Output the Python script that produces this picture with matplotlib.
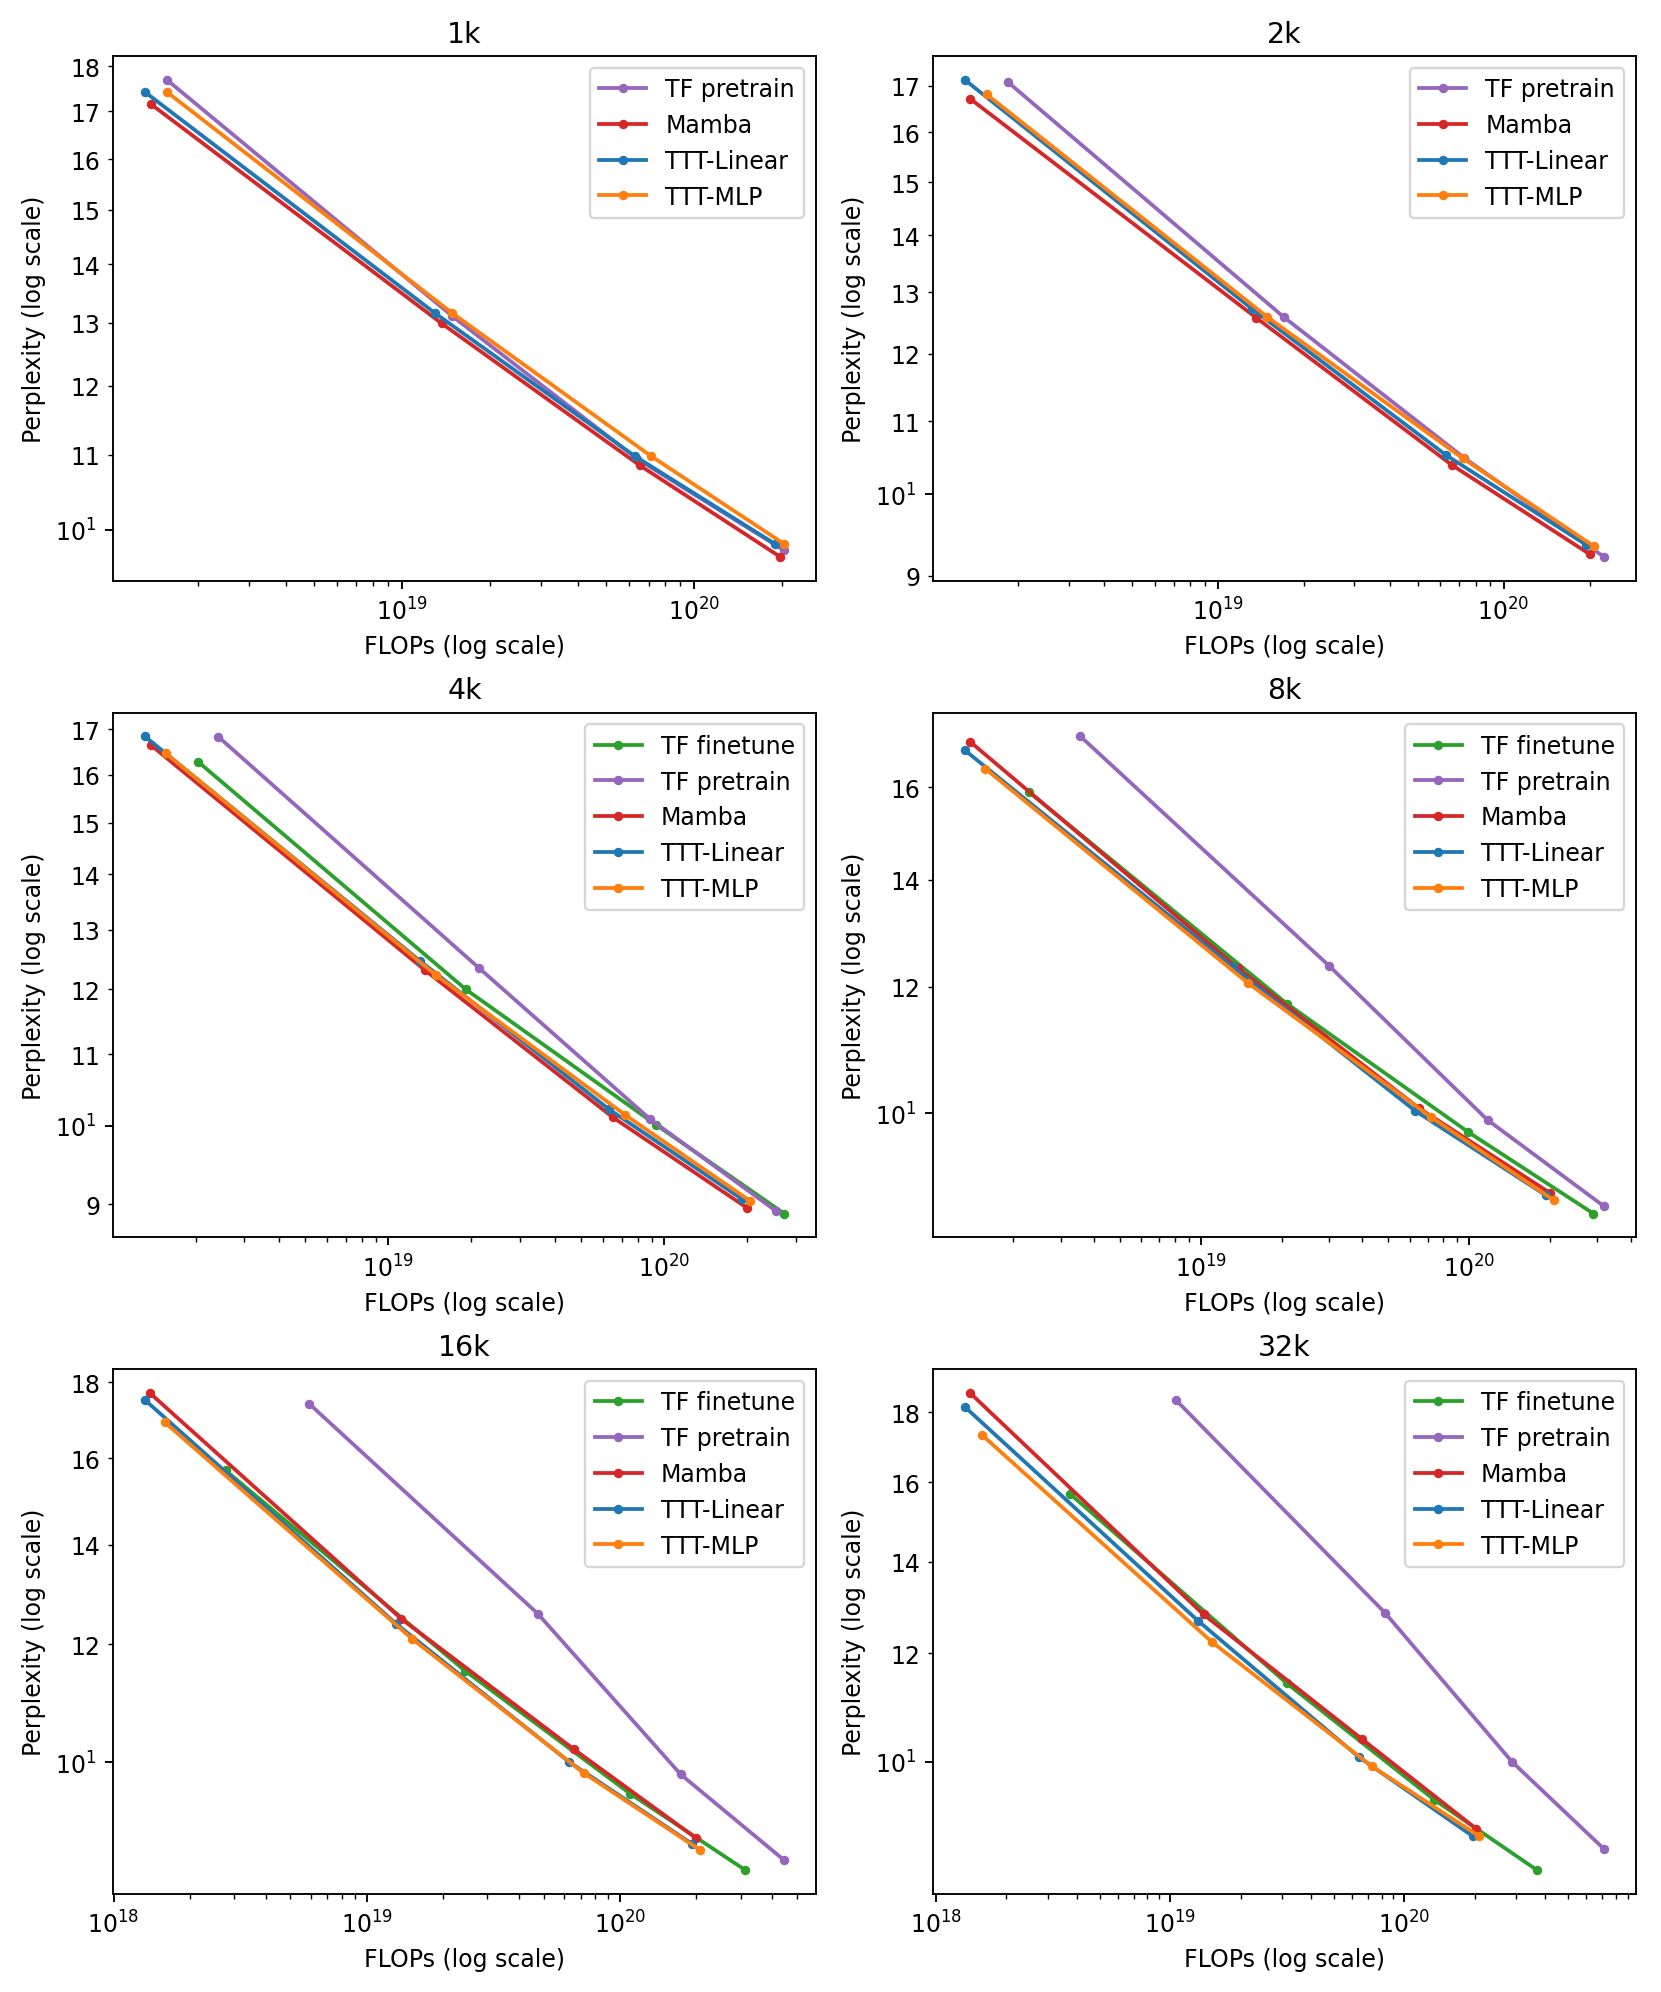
import numpy as np
import matplotlib
matplotlib.use('Agg')
import matplotlib.pyplot as plt
from matplotlib.ticker import LogFormatterSciNotation

# context lengths (one panel each)
panels = ['1k', '2k', '4k', '8k', '16k', '32k']

tf_ft_flops = {
    '4k': [2.04e18, 1.91e19, 9.35e19, 2.72e20],
    '8k': [2.28e18, 2.09e19, 9.9e19, 2.9e20],
    '16k': [2.77e18, 2.44e19, 1.10e20, 3.13e20],
    '32k': [3.73e18, 3.15e19, 1.34e20, 3.69e20],
}
tf_ft_ppl = {
    '4k': [16.28, 12.00, 10.01, 8.89],
    '8k': [15.90, 11.71, 9.73, 8.65],
    '16k': [15.70, 11.52, 9.52, 8.46],
    '32k': [15.70, 11.41, 9.38, 8.33],
}

tf_pre_flops = {
    '1k': [1.57e18, 1.49e19, 6.4e19, 2.04e20],
    '2k': [1.84e18, 1.70e19, 7.26e19, 2.25e20],
    '4k': [2.42e18, 2.13e19, 8.87e19, 2.54e20],
    '8k': [3.56e18, 3.0e19, 1.17e20, 3.18e20],
    '16k': [5.92e18, 4.74e19, 1.74e20, 4.46e20],
    '32k': [1.06e19, 8.3e19, 2.88e20, 7.14e20],
}
tf_pre_ppl = {
    '1k': [17.69, 13.11, 10.94, 9.74],
    '2k': [17.08, 12.59, 10.49, 9.22],
    '4k': [16.83, 12.35, 10.09, 8.92],
    '8k': [17.22, 12.37, 9.90, 8.74],
    '16k': [17.41, 12.58, 9.81, 8.59],
    '32k': [18.38, 12.84, 10.0, 8.63],
}

mamba_flops = {
    '1k': [1.38e18, 1.37e19, 6.53e19, 1.98e20],
    '2k': [1.36e18, 1.36e19, 6.59e19, 2.01e20],
    '4k': [1.38e18, 1.36e19, 6.52e19, 1.99e20],
    '8k': [1.38e18, 1.37e19, 6.5e19, 2.0e20],
    '16k': [1.39e18, 1.37e19, 6.58e19, 2.0e20],
    '32k': [1.40e18, 1.39e19, 6.63e19, 2.03e20],
}
mamba_ppl = {
    '1k': [17.16, 12.99, 10.85, 9.66],
    '2k': [16.71, 12.58, 10.39, 9.25],
    '4k': [16.64, 12.31, 10.11, 8.96],
    '8k': [17.09, 12.33, 10.07, 8.91],
    '16k': [17.70, 12.48, 10.20, 8.89],
    '32k': [18.60, 12.81, 10.38, 8.93],
}

lin_flops = {
    '1k': [1.32e18, 1.30e19, 6.27e19, 1.90e20],
    '2k': [1.30e18, 1.32e19, 6.31e19, 1.94e20],
    '4k': [1.31e18, 1.30e19, 6.31e19, 1.92e20],
    '8k': [1.32e18, 1.32e19, 6.3e19, 1.93e20],
    '16k': [1.33e18, 1.31e19, 6.31e19, 1.93e20],
    '32k': [1.33e18, 1.32e19, 6.43e19, 1.96e20],
}
lin_ppl = {
    '1k': [17.42, 13.16, 10.98, 9.82],
    '2k': [17.13, 12.72, 10.52, 9.37],
    '4k': [16.84, 12.47, 10.22, 9.06],
    '8k': [16.88, 12.34, 10.03, 8.88],
    '16k': [17.51, 12.38, 10.0, 8.81],
    '32k': [18.17, 12.67, 10.07, 8.82],
}

mlp_flops = {
    '1k': [1.57e18, 1.49e19, 7.13e19, 2.04e20],
    '2k': [1.55e18, 1.49e19, 7.2e19, 2.07e20],
    '4k': [1.56e18, 1.49e19, 7.18e19, 2.05e20],
    '8k': [1.57e18, 1.50e19, 7.21e19, 2.06e20],
    '16k': [1.59e18, 1.51e19, 7.21e19, 2.07e20],
    '32k': [1.58e18, 1.51e19, 7.28e19, 2.09e20],
}
mlp_ppl = {
    '1k': [17.42, 13.16, 10.98, 9.82],
    '2k': [16.81, 12.59, 10.48, 9.35],
    '4k': [16.46, 12.23, 10.15, 9.04],
    '8k': [16.44, 12.06, 9.94, 8.82],
    '16k': [16.92, 12.10, 9.83, 8.73],
    '32k': [17.32, 12.23, 9.92, 8.82],
}

series = [
    ('TF finetune', tf_ft_flops, tf_ft_ppl, 'tab:green'),
    ('TF pretrain', tf_pre_flops, tf_pre_ppl, 'tab:purple'),
    ('Mamba', mamba_flops, mamba_ppl, 'tab:red'),
    ('TTT-Linear', lin_flops, lin_ppl, 'tab:blue'),
    ('TTT-MLP', mlp_flops, mlp_ppl, 'tab:orange'),
]


class PlainMinor(LogFormatterSciNotation):
    # old-style minor labels: "17" instead of "1.7x10^1"
    def __call__(self, x, pos=None):
        s = super().__call__(x, pos)
        if s:
            return '%g' % x
        return s


DPI = 170
fig, axes = plt.subplots(3, 2, figsize=(1661 / DPI, 1993 / DPI), dpi=DPI)

for ax, name in zip(axes.flat, panels):
    for label, fl, pp, col in series:
        if name not in fl:
            continue
        ax.plot(fl[name], pp[name], '-o', color=col, lw=1.6, markersize=3, label=label)
    ax.set_xscale('log')
    ax.set_yscale('log')
    ax.yaxis.set_minor_formatter(PlainMinor(base=10, labelOnlyBase=False))
    ax.set_title(name)
    ax.set_xlabel('FLOPs (log scale)')
    ax.set_ylabel('Perplexity (log scale)')
    ax.legend(loc='upper right')

plt.subplots_adjust(left=0.068, right=0.985, top=0.9714, bottom=0.0492,
                    wspace=0.166, hspace=0.251)
plt.savefig('out.png', dpi=DPI)
